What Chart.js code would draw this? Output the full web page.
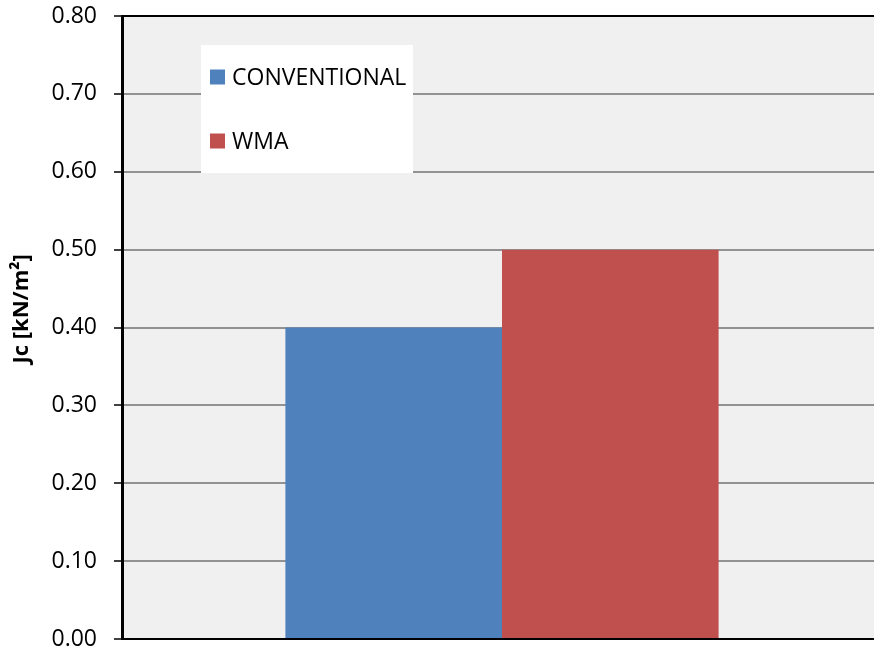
<!DOCTYPE html>
<html>
<head>
<meta charset="utf-8">
<script src="https://cdn.jsdelivr.net/npm/chart.js@4/dist/chart.umd.min.js"></script>
<style>
  html, body { margin: 0; padding: 0; background: #fff; overflow: hidden; }
  #wrap { width: 874px; height: 650px; overflow: hidden; }
  canvas { display: block; }
</style>
</head>
<body>
<div id="wrap"><canvas id="c" width="882" height="650"></canvas></div>
<script>
// Fracture energy Jc for the two mix types
const categories = [''];
const seriesNames = ['CONVENTIONAL', 'WMA'];
const seriesValues = [[0.40], [0.50]];
const seriesColors = ['#4f81bd', '#c0504d'];
const yTicks = { min: 0, max: 0.8, step: 0.1 };
const yTitle = 'Jc [kN/m\u00b2]';

const FONT = '"Open Sans", "Liberation Sans", sans-serif';

// light grey plot background
const plotBackground = {
  id: 'plotBackground',
  beforeDraw(chart) {
    const { ctx, chartArea: a } = chart;
    ctx.save();
    ctx.fillStyle = '#f0f0f0';
    ctx.fillRect(a.left, a.top, a.right - a.left, a.bottom - a.top);
    ctx.restore();
  }
};

// rotated axis title, slightly above the axis centre
const axisTitle = {
  id: 'axisTitle',
  afterDraw(chart) {
    const { ctx, chartArea: a } = chart;
    ctx.save();
    ctx.translate(22, a.top + (a.bottom - a.top) * 0.47);
    ctx.rotate(-Math.PI / 2);
    ctx.font = 'bold 22px ' + FONT;
    ctx.fillStyle = '#000';
    ctx.textAlign = 'center';
    ctx.textBaseline = 'middle';
    ctx.fillText(yTitle, 0, 0);
    ctx.restore();
  }
};

// boxed legend inside the plot area
const insetLegend = {
  id: 'insetLegend',
  afterDraw(chart) {
    const { ctx, chartArea: a } = chart;
    const x0 = a.left + 79, y0 = a.top + 29, w = 212, h = 128;
    ctx.save();
    ctx.fillStyle = '#ffffff';
    ctx.fillRect(x0, y0, w, h);
    ctx.font = '23px ' + FONT;
    ctx.textBaseline = 'middle';
    chart.data.datasets.forEach((ds, i) => {
      const cy = y0 + 32 + i * 64;
      ctx.fillStyle = ds.backgroundColor;
      ctx.fillRect(x0 + 9, cy - 7.5, 15, 15);
      ctx.fillStyle = '#000';
      ctx.fillText(ds.label, x0 + 31, cy + 1);
    });
    ctx.restore();
  }
};

new Chart(document.getElementById('c'), {
  type: 'bar',
  data: {
    labels: categories,
    datasets: seriesNames.map((name, i) => ({
      label: name,
      data: seriesValues[i],
      backgroundColor: seriesColors[i],
      borderWidth: 0,
      categoryPercentage: 0.57,
      barPercentage: 1.0
    }))
  },
  options: {
    responsive: false,
    devicePixelRatio: 1,
    animation: false,
    layout: { padding: { top: 16, bottom: 11, left: 0, right: 0 } },
    plugins: {
      legend: { display: false },
      tooltip: { enabled: false }
    },
    scales: {
      x: {
        ticks: { display: false },
        grid: { display: false },
        border: { display: true, color: '#000', width: 2 },
        afterFit(scale) { scale.height = 0; }
      },
      y: {
        min: yTicks.min,
        max: yTicks.max,
        ticks: {
          stepSize: yTicks.step,
          padding: 17,
          color: '#000',
          font: { family: FONT, size: 23 },
          callback: v => Number(v).toFixed(2)
        },
        grid: {
          color: c => (c.tick && Math.abs(c.tick.value - yTicks.max) < 1e-9) ? '#000' : '#929292',
          lineWidth: 2,
          tickLength: 8,
          tickColor: '#000',
          tickWidth: 1.5
        },
        border: { display: true, color: '#000', width: 3 },
        afterFit(scale) {
          scale.width = 122;
          scale.paddingTop = 0;
          scale.paddingBottom = 0;
        }
      }
    }
  },
  plugins: [plotBackground, axisTitle, insetLegend]
});
</script>
</body>
</html>
